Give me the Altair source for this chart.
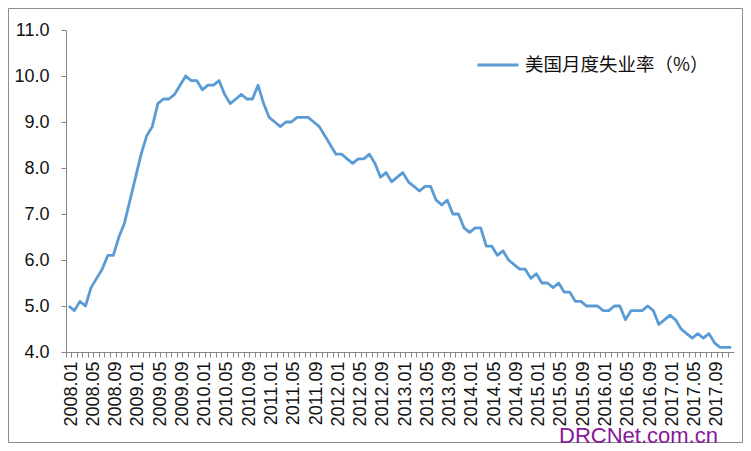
import altair as alt
import pandas as pd

years = [2008, 2009, 2010, 2011, 2012, 2013, 2014, 2015, 2016, 2017]
rate_2008 = [5.0, 4.9, 5.1, 5.0, 5.4, 5.6, 5.8, 6.1, 6.1, 6.5, 6.8, 7.3]
rate_2009 = [7.8, 8.3, 8.7, 8.9, 9.4, 9.5, 9.5, 9.6, 9.8, 10.0, 9.9, 9.9]
rate_2010 = [9.7, 9.8, 9.8, 9.9, 9.6, 9.4, 9.5, 9.6, 9.5, 9.5, 9.8, 9.4]
rate_2011 = [9.1, 9.0, 8.9, 9.0, 9.0, 9.1, 9.1, 9.1, 9.0, 8.9, 8.7, 8.5]
rate_2012 = [8.3, 8.3, 8.2, 8.1, 8.2, 8.2, 8.3, 8.1, 7.8, 7.9, 7.7, 7.8]
rate_2013 = [7.9, 7.7, 7.6, 7.5, 7.6, 7.6, 7.3, 7.2, 7.3, 7.0, 7.0, 6.7]
rate_2014 = [6.6, 6.7, 6.7, 6.3, 6.3, 6.1, 6.2, 6.0, 5.9, 5.8, 5.8, 5.6]
rate_2015 = [5.7, 5.5, 5.5, 5.4, 5.5, 5.3, 5.3, 5.1, 5.1, 5.0, 5.0, 5.0]
rate_2016 = [4.9, 4.9, 5.0, 5.0, 4.7, 4.9, 4.9, 4.9, 5.0, 4.9, 4.6, 4.7]
rate_2017 = [4.8, 4.7, 4.5, 4.4, 4.3, 4.4, 4.3, 4.4, 4.2, 4.1, 4.1, 4.1]

rates = (rate_2008 + rate_2009 + rate_2010 + rate_2011 + rate_2012 +
         rate_2013 + rate_2014 + rate_2015 + rate_2016 + rate_2017)
months = [f"{y}.{m:02d}" for y in years for m in range(1, 13)]
y_ticks = [4, 5, 6, 7, 8, 9, 10, 11]
series_name = "美国月度失业率（%）"
watermark = "DRCNet.com.cn"

df = pd.DataFrame({"month": months, "rate": rates, "series": series_name})
one = pd.DataFrame({"k": [0]})

W, H = 668, 322
band = W / len(months)
GREY = "#868686"
TXT = "#111111"

line = alt.Chart(df).mark_line(strokeWidth=2.8, strokeJoin="round").encode(
    x=alt.X("month:O",
            scale=alt.Scale(type="band", paddingInner=0, paddingOuter=0),
            axis=alt.Axis(title=None, labelAngle=270, bandPosition=0,
                          labelOffset=band / 2, labelOverlap=False,
                          labelExpr="(toNumber(slice(datum.value, 5)) - 1) % 4 == 0 ? datum.value : ''",
                          tickSize=5, labelPadding=4, labelFontSize=18,
                          labelFont="Liberation Sans", labelColor=TXT,
                          domainColor=GREY, tickColor=GREY, grid=False)),
    y=alt.Y("rate:Q",
            scale=alt.Scale(domain=[4, 11], nice=False, zero=False),
            axis=alt.Axis(title=None, values=y_ticks, format=".1f", grid=False,
                          tickSize=5, labelPadding=12, labelFontSize=18,
                          labelFont="Liberation Sans", labelColor=TXT,
                          domainColor=GREY, tickColor=GREY)),
    color=alt.Color("series:N", scale=alt.Scale(range=["#5B9BD5"]),
                    legend=alt.Legend(orient="none", legendX=410, legendY=13,
                                      title=None, symbolType="stroke",
                                      symbolSize=1681, symbolStrokeWidth=3,
                                      labelFontSize=18.5, labelFont="Noto Sans CJK SC",
                                      labelColor=TXT, labelLimit=400,
                                      padding=0, labelOffset=5)),
)

border = alt.Chart(one).mark_rect(filled=False, stroke="#8c8c8c", strokeWidth=1).encode(
    x=alt.value(-57.5), x2=alt.value(676.5), y=alt.value(-21.5), y2=alt.value(412.5)
)

mark = alt.Chart(one).mark_text(text=watermark, align="left", baseline="alphabetic",
                                fontSize=22, font="Liberation Sans",
                                color="#86189a").encode(
    x=alt.value(493), y=alt.value(413)
)

chart = alt.layer(border, line, mark).properties(
    width=W, height=H,
    padding={"left": 0, "top": 0, "right": 0, "bottom": 0},
    background="white",
).configure_view(stroke=None)

chart.save("out.html", embed_options={"renderer": "svg", "actions": False})
